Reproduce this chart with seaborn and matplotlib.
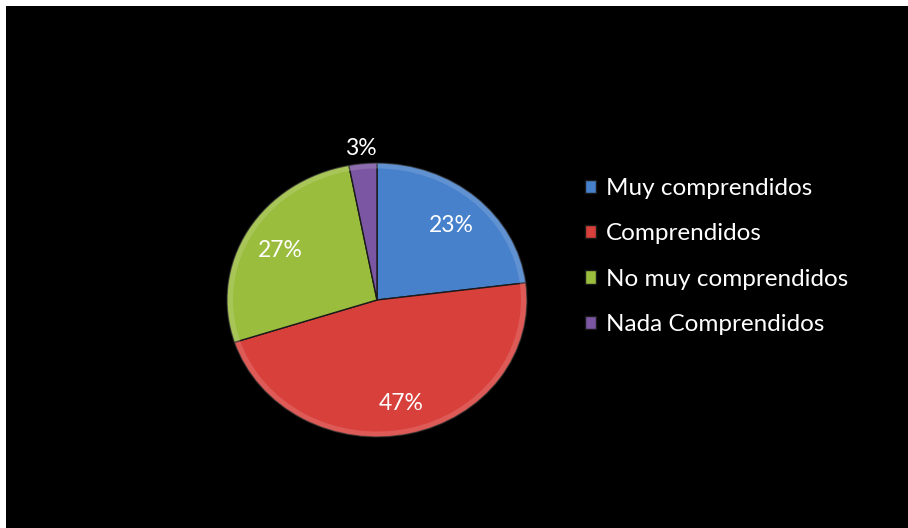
import numpy as np
import matplotlib
matplotlib.use("Agg")
import matplotlib.pyplot as plt
from matplotlib.patches import Rectangle, Wedge
import seaborn as sns

categories = ["Muy comprendidos", "Comprendidos", "No muy comprendidos", "Nada Comprendidos"]
shares = [23, 47, 27, 3]
pct_labels = ["23%", "47%", "27%", "3%"]

sns.set_theme(style="white")
plt.rcParams["font.family"] = ["Lato", "DejaVu Sans"]

palette = sns.color_palette(["#4781CC", "#D8403C", "#9BBD3E", "#7B56A3"])

fig = plt.figure(figsize=(9.08, 5.28), dpi=100, facecolor="black")
W, H = 908, 528

# pie area: slightly squashed vertically, like a tilted disc
ax = fig.add_axes([227 / W, 91 / H, 300 / W, 274 / H])
ax.set_facecolor("black")
wedges, _ = ax.pie(
    shares,
    colors=palette,
    startangle=90,
    counterclock=False,
    wedgeprops=dict(edgecolor="#1a1a1a", linewidth=1.0),
)
ax.set_aspect("auto")
ax.set_xlim(-1, 1)
ax.set_ylim(-1, 1)

# soft rim highlight on each slice
for w, c in zip(wedges, palette):
    light = tuple(min(1, v * 0.6 + 0.4) for v in c)
    ax.add_patch(
        Wedge((0, 0), 1.0, w.theta1, w.theta2, width=0.04,
              facecolor=light, edgecolor="none", alpha=0.35)
    )

# percentage labels at the middle angle of each slice
for w, lab, s in zip(wedges, pct_labels, shares):
    ang = np.deg2rad((w.theta1 + w.theta2) / 2)
    r = 1.13 if s < 5 else 0.75
    ax.text(r * np.cos(ang), r * np.sin(ang) - 0.02, lab,
            ha="center", va="center", color="white", fontsize=16.5,
            clip_on=False)

leg = fig.legend(
    wedges, categories,
    loc="upper left", bbox_to_anchor=(585 / W, 1 - 178 / H),
    frameon=False, fontsize=17.5, labelcolor="white",
    handlelength=0.47, handleheight=0.47, handletextpad=0.4,
    labelspacing=1.0, borderpad=0, borderaxespad=0,
)

# white frame along the top and left edges
fig.add_artist(Rectangle((0, 1 - 6 / H), 1, 6 / H, transform=fig.transFigure,
                         facecolor="white", edgecolor="none"))
fig.add_artist(Rectangle((0, 0), 6 / W, 1, transform=fig.transFigure,
                         facecolor="white", edgecolor="none"))

fig.savefig("out.png", dpi=100, facecolor="black")
